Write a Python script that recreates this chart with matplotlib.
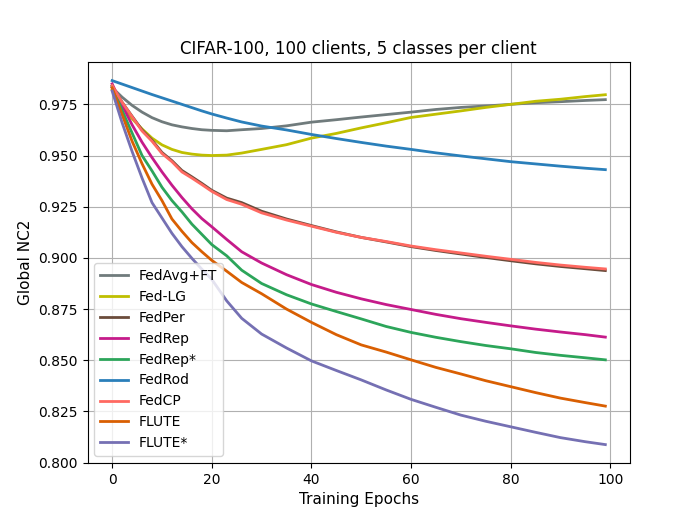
import numpy as np
import matplotlib
matplotlib.use('Agg')
import matplotlib.pyplot as plt

# epocas donde se leyeron los valores
epochs = [0, 2, 4, 6, 8, 10, 12, 14, 16, 18, 20, 23, 26, 30, 35, 40, 45, 50,
          55, 60, 65, 70, 75, 80, 85, 90, 95, 99]

fedavg_ft = [.9832, .9785, .9745, .9712, .9685, .9665, .9650, .9640, .9632, .9626,
             .9623, .9621, .9626, .9632, .9645, .9663, .9675, .9688, .9700, .9712,
             .9725, .9735, .9742, .9750, .9758, .9763, .9769, .9773]
fed_lg = [.9820, .9740, .9680, .9630, .9585, .9552, .9530, .9515, .9507, .9502,
          .9500, .9502, .9512, .9530, .9553, .9585, .9608, .9635, .9660, .9686,
          .9702, .9718, .9735, .9750, .9765, .9775, .9788, .9797]
fedper = [.9838, .9760, .9692, .9625, .9575, .9515, .9475, .9427, .9396, .9364,
          .9330, .9292, .9270, .9228, .9190, .9158, .9127, .9100, .9078, .9055,
          .9036, .9019, .9002, .8986, .8971, .8958, .8947, .8938]
fedrep = [.9850, .9745, .9650, .9565, .9490, .9420, .9355, .9295, .9240, .9192,
          .9152, .9090, .9030, .8975, .8918, .8870, .8832, .8800, .8772, .8748,
          .8724, .8703, .8685, .8668, .8652, .8638, .8625, .8613]
fedrep_s = [.9840, .9720, .9610, .9500, .9425, .9345, .9280, .9225, .9165, .9115,
            .9065, .9010, .8940, .8875, .8820, .8775, .8738, .8702, .8665, .8636,
            .8612, .8591, .8572, .8556, .8538, .8524, .8512, .8502]
fedrod = [.9866, .9849, .9832, .9815, .9798, .9782, .9766, .9750, .9734, .9718,
          .9703, .9683, .9664, .9644, .9625, .9603, .9583, .9564, .9546, .9530,
          .9513, .9498, .9484, .9470, .9459, .9448, .9438, .9431]
fedcp = [.9842, .9760, .9690, .9620, .9570, .9510, .9470, .9420, .9390, .9358,
         .9325, .9285, .9262, .9220, .9185, .9155, .9125, .9100, .9080, .9058,
         .9040, .9024, .9008, .8993, .8978, .8965, .8954, .8946]
flute = [.9830, .9700, .9570, .9460, .9360, .9280, .9190, .9130, .9075, .9030,
         .8988, .8935, .8880, .8825, .8750, .8685, .8625, .8575, .8540, .8502,
         .8465, .8433, .8400, .8371, .8342, .8315, .8293, .8276]
flute_s = [.9815, .9660, .9520, .9390, .9270, .9195, .9120, .9055, .8998, .8945,
           .8895, .8790, .8705, .8628, .8560, .8497, .8450, .8404, .8355, .8309,
           .8270, .8232, .8202, .8175, .8148, .8122, .8102, .8088]

series = [
    ('FedAvg+FT', fedavg_ft, '#707b7c'),
    ('Fed-LG', fed_lg, '#bfbf00'),
    ('FedPer', fedper, '#6b4c3b'),
    ('FedRep', fedrep, '#c51b8a'),
    ('FedRep*', fedrep_s, '#2ca55a'),
    ('FedRod', fedrod, '#2a7fba'),
    ('FedCP', fedcp, '#ff6961'),
    ('FLUTE', flute, '#d95f02'),
    ('FLUTE*', flute_s, '#7570b3'),
]

fig = plt.figure(figsize=(7, 5.2), dpi=100)
for name, vals, col in series:
    plt.plot(epochs, vals, label=name, color=col, linewidth=2)

plt.xlabel('Training Epochs', fontsize=11)
plt.ylabel('Global NC2', fontsize=11)
plt.title('CIFAR-100, 100 clients, 5 classes per client')
plt.grid(True)
plt.legend(loc='lower left')
plt.savefig('out.png')
